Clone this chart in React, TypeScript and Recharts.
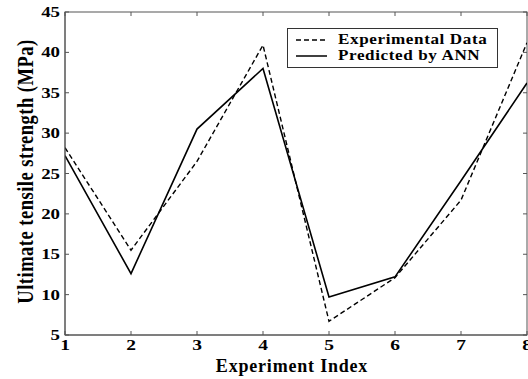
import React from 'react';
import * as R from 'recharts';
import { LineChart, Line, XAxis, YAxis, Label } from 'recharts';

const experimentIndex = [1, 2, 3, 4, 5, 6, 7, 8];
const experimentalData = [28.2, 15.5, 26.5, 40.9, 6.7, 12.1, 21.7, 41.2];
const predictedByANN = [27.2, 12.6, 30.5, 38.0, 9.7, 12.2, 24.1, 36.2];
const xTicks = [1, 2, 3, 4, 5, 6, 7, 8];
const yTicks = [5, 10, 15, 20, 25, 30, 35, 40, 45];

const data = experimentIndex.map((x, i) => ({
  x,
  exp: experimentalData[i],
  ann: predictedByANN[i],
}));

const AXIS = '#555';
const FONT = '"Liberation Serif", "Times New Roman", serif';
const TL = 4;
const SX = 1.3;

const usePA = () => {
  const hook = (R as any).usePlotArea;
  return hook ? hook() : null;
};

const LeftTick = (props: any) => {
  const { x, y, payload } = props;
  const pa = usePA();
  return (
    <g>
      <text
        transform={`translate(${x + 1},${y + 5}) scale(${SX},1)`}
        textAnchor="end"
        fontFamily={FONT}
        fontWeight="bold"
        fontSize={14.5}
        fill="#000"
      >
        {payload.value}
      </text>
      <line x1={x + 6} x2={x + 6 + TL} y1={y} y2={y} stroke={AXIS} />
      {pa ? (
        <line x1={pa.x + pa.width} x2={pa.x + pa.width - TL} y1={y} y2={y} stroke={AXIS} />
      ) : null}
    </g>
  );
};

const BottomTick = (props: any) => {
  const { x, y, payload } = props;
  const pa = usePA();
  return (
    <g>
      <text
        transform={`translate(${x},${y + 13}) scale(${SX},1)`}
        textAnchor="middle"
        fontFamily={FONT}
        fontWeight="bold"
        fontSize={15}
        fill="#000"
      >
        {payload.value}
      </text>
      <line x1={x} x2={x} y1={y - 2} y2={y - 2 - TL} stroke={AXIS} />
      {pa ? <line x1={x} x2={x} y1={pa.y} y2={pa.y + TL} stroke={AXIS} /> : null}
    </g>
  );
};

const Frame = () => {
  const pa = usePA();
  if (!pa) return null;
  return <rect x={pa.x} y={pa.y} width={pa.width} height={pa.height} fill="none" stroke={AXIS} strokeWidth={1} />;
};

const YLabel = (props: any) => {
  const vb = props.viewBox || { x: 0, y: 12, width: 65, height: 323 };
  const cx = vb.x + 33;
  const cy = vb.y + vb.height / 2 - 2;
  return (
    <text
      transform={`translate(${cx},${cy}) scale(1.25,1) rotate(-90)`}
      textAnchor="middle"
      fontFamily={FONT}
      fontWeight="bold"
      fontSize={18.5}
      letterSpacing={0.5}
      fill="#000"
    >
      Ultimate tensile strength (MPa)
    </text>
  );
};

const legendText: React.CSSProperties = {
  display: 'inline-block',
  transform: 'scaleX(1.22)',
  transformOrigin: 'left center',
  letterSpacing: 0.5,
  whiteSpace: 'nowrap',
};

const LegendBox = () => (
  <div
    style={{
      position: 'absolute',
      left: 287,
      top: 28,
      border: '1px solid #333',
      background: '#fff',
      width: 211,
      height: 40,
      boxSizing: 'border-box',
      fontFamily: FONT,
      fontWeight: 'bold',
      fontSize: 14,
      color: '#000',
      padding: '3px 0 0 8px',
      lineHeight: '16px',
    }}
  >
    <div style={{ display: 'flex', alignItems: 'center', height: 16 }}>
      <svg width={31} height={10} style={{ marginRight: 11 }}>
        <line x1={0} x2={31} y1={5} y2={5} stroke="#000" strokeWidth={1.5} strokeDasharray="5 3" />
      </svg>
      <span style={legendText}>Experimental Data</span>
    </div>
    <div style={{ display: 'flex', alignItems: 'center', height: 16 }}>
      <svg width={31} height={10} style={{ marginRight: 11 }}>
        <line x1={0} x2={31} y1={5} y2={5} stroke="#000" strokeWidth={1.5} />
      </svg>
      <span style={legendText}>Predicted by ANN</span>
    </div>
  </div>
);

export default function App() {
  return (
    <div style={{ position: 'absolute', left: 0, top: 0, width: 528, height: 379, background: '#fff' }}>
      <LineChart width={528} height={379} data={data} margin={{ top: 12, right: 1, left: 0, bottom: 0 }}>
        <XAxis
          dataKey="x"
          type="number"
          domain={[1, 8]}
          ticks={xTicks}
          allowDataOverflow
          stroke={AXIS}
          tickLine={false}
          tickSize={0}
          tickMargin={2}
          height={44}
          tick={<BottomTick />}
          interval={0}
        >
          <Label
            value="Experiment Index"
            position="insideBottom"
            offset={7}
            dx={-4}
            style={{ fontFamily: FONT, fontWeight: 'bold', fontSize: 18, letterSpacing: 0.8, fill: '#000' }}
          />
        </XAxis>
        <YAxis
          type="number"
          domain={[5, 45]}
          ticks={yTicks}
          allowDataOverflow
          stroke={AXIS}
          tickLine={false}
          tickSize={0}
          tickMargin={6}
          width={65}
          tick={<LeftTick />}
          interval={0}
        >
          <Label content={<YLabel />} position="center" />
        </YAxis>
        <Frame />
        <Line
          dataKey="exp"
          stroke="#000"
          strokeWidth={1.4}
          strokeDasharray="5 3"
          dot={false}
          isAnimationActive={false}
        />
        <Line dataKey="ann" stroke="#000" strokeWidth={1.6} dot={false} isAnimationActive={false} />
      </LineChart>
      <LegendBox />
    </div>
  );
}
